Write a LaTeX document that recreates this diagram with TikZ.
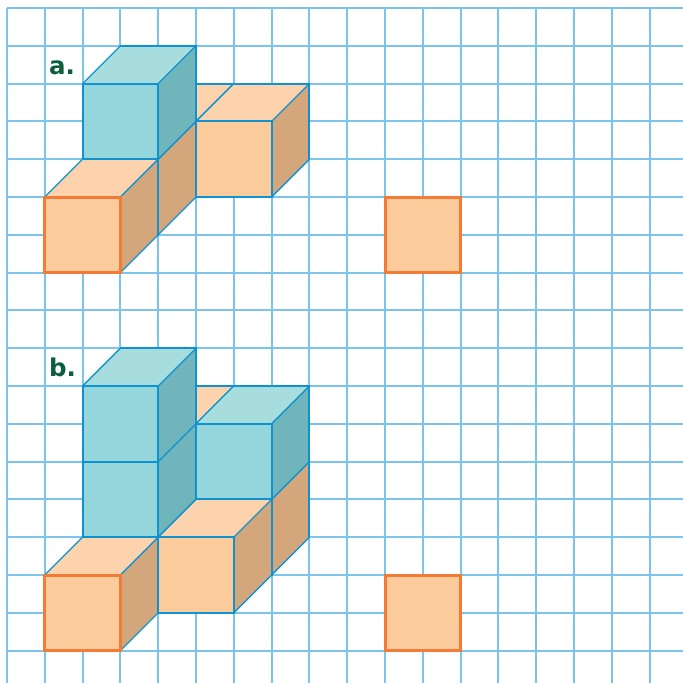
\documentclass[tikz,border=0pt]{standalone}
\usepackage{fontspec}
\setmainfont{DejaVu Sans}
\definecolor{gridc}{HTML}{7DC4EC}
\definecolor{edgec}{HTML}{0F93D0}
\definecolor{ostroke}{HTML}{F47B36}
\definecolor{ofront}{HTML}{FBCB9C}
\definecolor{otop}{HTML}{FDD3AE}
\definecolor{oside}{HTML}{D3A77B}
\definecolor{bfront}{HTML}{95D5DC}
\definecolor{btop}{HTML}{A8DDDD}
\definecolor{bside}{HTML}{71B5BC}
\definecolor{labelc}{HTML}{0B5F3D}
\tikzset{
  gridline/.style={gridc,line width=2pt},
  straightedge/.style={edgec,line width=2.1pt,line join=miter},
  slantedge/.style={edgec,line width=1.3pt},
  basesquare/.style={draw=ostroke,fill=ofront,line width=3pt,line join=miter},
  partlabel/.style={labelc,font=\bfseries\fontsize{24.5}{25}\selectfont,anchor=base west,inner sep=0pt}
}
% #1 i, #2 j (top-left of the front face), #3 colour prefix
\newcommand{\cubeat}[3]{%
  \pgfmathsetmacro{\ia}{#1+2}\pgfmathsetmacro{\ib}{#1+1}\pgfmathsetmacro{\ic}{#1+3}%
  \pgfmathsetmacro{\ja}{#2+2}\pgfmathsetmacro{\jb}{#2-1}\pgfmathsetmacro{\jc}{#2+1}%
  \fill[#3top] (#1,#2) -- (\ia,#2) -- (\ic,\jb) -- (\ib,\jb) -- cycle;
  \fill[#3side] (\ia,#2) -- (\ic,\jb) -- (\ic,\jc) -- (\ia,\ja) -- cycle;
  \fill[#3front] (#1,#2) rectangle (\ia,\ja);
  \draw[slantedge] (#1,#2) -- (\ib,\jb) (\ia,#2) -- (\ic,\jb) (\ia,\ja) -- (\ic,\jc);
  \draw[straightedge] (\ib,\jb) -- (\ic,\jb) -- (\ic,\jc);
  \draw[straightedge] (#1,#2) rectangle (\ia,\ja);
}
\begin{document}
\begin{tikzpicture}[x=37.8pt,y=-37.8pt]
\useasboundingbox[fill=white] (-7pt,8pt) rectangle (676pt,-675pt);
% grid
\foreach \n in {0,...,17}{
  \draw[gridline] (\n,0) -- (\n,0 |- 0pt,-675pt);
  \draw[gridline] (0,\n) -- (676pt,0 |- 0,\n);
}
% figure a
\cubeat{3}{3}{o}
\cubeat{5}{3}{o}
\cubeat{2}{4}{o}
\cubeat{2}{2}{b}
\cubeat{1}{5}{o}
\draw[basesquare] (1,5) rectangle (3,7);
\draw[basesquare] (10,5) rectangle (12,7);
% figure b
\cubeat{3}{11}{o}
\cubeat{5}{13}{o}
\cubeat{5}{11}{b}
\cubeat{2}{12}{b}
\cubeat{2}{10}{b}
\cubeat{4}{14}{o}
\cubeat{1}{15}{o}
\draw[basesquare] (1,15) rectangle (3,17);
\draw[basesquare] (10,15) rectangle (12,17);
% labels
\node[partlabel] (la) at (42pt,-66pt) {a.};
\node[partlabel] (lb) at (42pt,-368pt) {b.};
\end{tikzpicture}
\end{document}
